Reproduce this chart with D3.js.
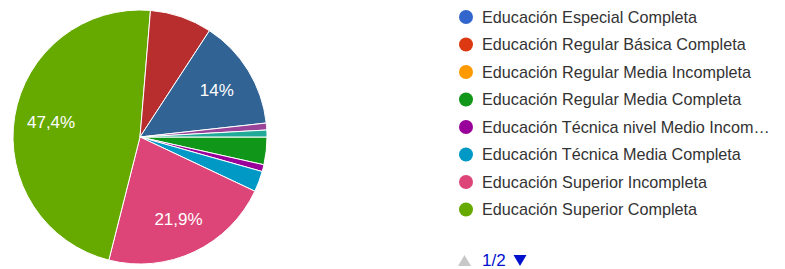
<!DOCTYPE html>
<html>
<head>
<meta charset="utf-8">
<script src="https://cdn.jsdelivr.net/npm/d3@7"></script>
<style>
  body { margin: 0; background: #fff; }
  svg { display: block; font-family: Arial, "Liberation Sans", sans-serif; }
</style>
</head>
<body>
<div id="chart"></div>
<script>
// answers, in the order of the form (second legend page not shown)
var categories = [
  "Educación Especial Completa",
  "Educación Regular Básica Completa",
  "Educación Regular Media Incompleta",
  "Educación Regular Media Completa",
  "Educación Técnica nivel Medio Incompleta",
  "Educación Técnica Media Completa",
  "Educación Superior Incompleta",
  "Educación Superior Completa",
  "Postgrado Incompleto",
  "Postgrado Completo",
  "Diplomado",
  "Otro"
];
var counts = [0, 0, 0, 4, 1, 3, 25, 54, 9, 16, 1, 1];
var colors = ["#3366cc", "#dc3912", "#ff9900", "#109618", "#990099", "#0099c6",
              "#dd4477", "#66aa00", "#b82e2e", "#316395", "#994499", "#22aa99"];
var pageLabel = "1/2";
var perPage = 8;

var width = 785, height = 269;
var cx = 140, cy = 137, radius = 127;

var svg = d3.select("#chart").append("svg")
  .attr("width", width)
  .attr("height", height);

var total = d3.sum(counts);
var data = categories.map(function (c, i) {
  return { name: c, value: counts[i], color: colors[i] };
});

var pie = d3.pie()
  .sort(null)
  .value(function (d) { return d.value; })
  .startAngle(Math.PI / 2)
  .endAngle(Math.PI / 2 + 2 * Math.PI);

var arc = d3.arc().innerRadius(0).outerRadius(radius);
var labelArc = d3.arc().innerRadius(radius * 0.71).outerRadius(radius * 0.71);

var g = svg.append("g").attr("transform", "translate(" + cx + "," + cy + ")");

var arcs = pie(data).filter(function (d) { return d.data.value > 0; });

g.selectAll("path")
  .data(arcs)
  .enter()
  .append("path")
  .attr("d", arc)
  .attr("fill", function (d) { return d.data.color; })
  .attr("stroke", "#fff")
  .attr("stroke-width", 1);

function fmtPct(v) {
  var s = (Math.round(v * 1000) / 10).toFixed(1);
  if (s.slice(-2) === ".0") s = s.slice(0, -2);
  return s.replace(".", ",") + "%";
}

// only the big slices get a label
g.selectAll(".slice-label")
  .data(arcs.filter(function (d) { return d.data.value / total >= 0.1; }))
  .enter()
  .append("text")
  .attr("class", "slice-label")
  .attr("transform", function (d) { return "translate(" + labelArc.centroid(d) + ")"; })
  .attr("text-anchor", "middle")
  .attr("dy", "0.36em")
  .attr("fill", "#fff")
  .attr("font-size", 17)
  .text(function (d) { return fmtPct(d.data.value / total); });

// legend, first page
var legendX = 466, legendY = 17, rowH = 27.5, maxW = 289;
var y = d3.scalePoint()
  .domain(d3.range(perPage))
  .range([legendY, legendY + rowH * (perPage - 1)]);

var legend = svg.append("g");
var rows = legend.selectAll("g")
  .data(data.slice(0, perPage))
  .enter()
  .append("g")
  .attr("transform", function (d, i) { return "translate(" + legendX + "," + y(i) + ")"; });

rows.append("circle")
  .attr("r", 7)
  .attr("fill", function (d) { return d.color; });

rows.append("text")
  .attr("x", 16)
  .attr("dy", "0.36em")
  .attr("font-size", 16.2)
  .attr("fill", "#333")
  .text(function (d) { return d.name; })
  .each(function (d) {
    var t = d3.select(this), s = d.name;
    while (this.getComputedTextLength() > maxW && s.length > 1) {
      s = s.slice(0, -1);
      t.text(s.trim() + "…");
    }
  });

// pager
var pager = svg.append("g").attr("transform", "translate(0,260)");
pager.append("path")
  .attr("d", "M458,6 L471,6 L464.5,-5 Z")
  .attr("fill", "#c8c8c8");
pager.append("text")
  .attr("x", 482)
  .attr("dy", "0.36em")
  .attr("font-size", 17)
  .attr("fill", "#0011cc")
  .text(pageLabel);
pager.append("path")
  .attr("d", "M513.5,-5 L526.5,-5 L520,6 Z")
  .attr("fill", "#0011cc");
</script>
</body>
</html>
